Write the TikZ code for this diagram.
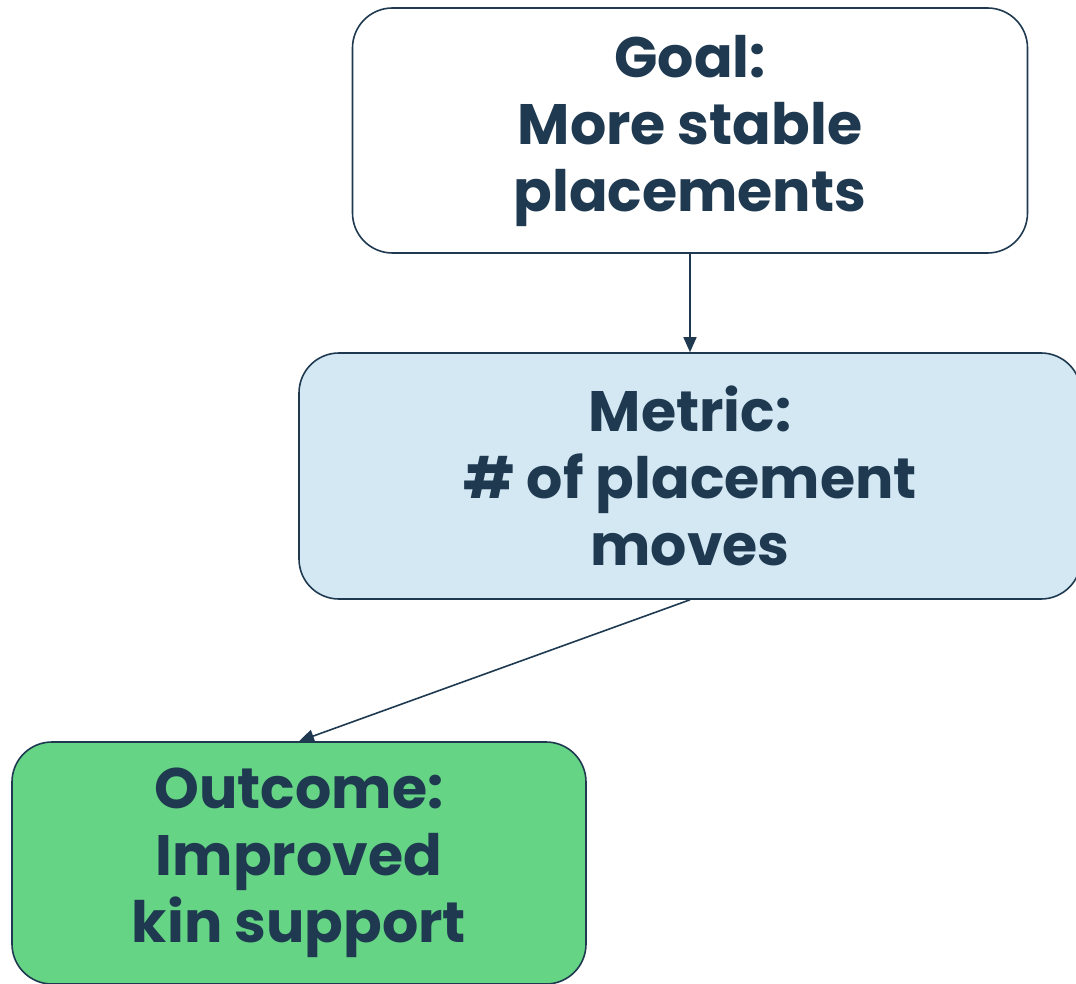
\documentclass[tikz,border=0pt]{standalone}
\usepackage{fontspec}
\setmainfont{Poppins}
\usetikzlibrary{arrows.meta}
\definecolor{navy}{HTML}{1F3A50}
\definecolor{metricfill}{HTML}{D4E8F4}
\definecolor{outfill}{HTML}{66D485}
\tikzset{
  box/.style={draw=navy, line width=1.6pt, rounded corners=40pt, text=navy,
    font=\fontsize{57}{67}\selectfont\bfseries, align=center, inner sep=0pt},
  conn/.style={draw=navy, line width=1.6pt, -{Triangle[length=15pt,width=13pt]}}
}
\begin{document}
\begin{tikzpicture}[x=1pt,y=1pt]
\useasboundingbox (0,0) rectangle (1076,-984);
\node[box, fill=white, minimum width=675pt, minimum height=245pt] (goal) at (690,-130.5) {Goal:\\More stable\\placements};
\node[box, fill=metricfill, minimum width=782pt, minimum height=246pt] (metric) at (690,-476) {Metric:\\\# of placement\\moves};
\node[box, fill=outfill, minimum width=574pt, minimum height=242pt] (outcome) at (299,-863) {Outcome:\\Improved\\kin support};
\draw[conn] (goal.south) -- (metric.north);
\draw[conn] (metric.south) -- (outcome.north);
\end{tikzpicture}
\end{document}
